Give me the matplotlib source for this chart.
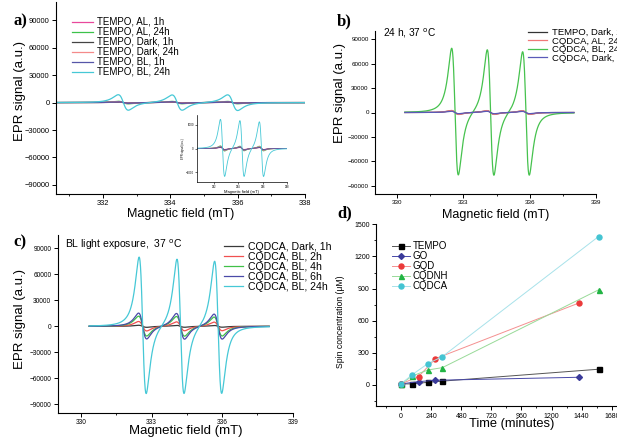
import numpy as np
import matplotlib
matplotlib.use("Agg")
import matplotlib.pyplot as plt
from matplotlib.ticker import MultipleLocator

plt.rcParams['font.family'] = ['Liberation Sans', 'DejaVu Sans']

W, H = 617, 441

# ---- panel a: TEMPO spectra (line centres in mT, peak heights in a.u.)
a_labels = ["TEMPO, AL, 1h", "TEMPO, AL, 24h", "TEMPO, Dark, 1h",
            "TEMPO, Dark, 24h", "TEMPO, BL, 1h", "TEMPO, BL, 24h"]
a_colors = ["#e8489c", "#3cc24a", "#444444", "#f48a8a", "#5656a8", "#46c8d6"]
a_centers = [332.6, 334.2, 335.85]
a_amps = [[500, 500, 450], [1400, 1300, 1300], [700, 700, 600],
          [1100, 1000, 1000], [900, 900, 800], [8500, 8400, 8600]]
a_width = 0.26
# inset of panel a
ins_centers = [332.7, 334.3, 335.9]
ins_amps = [[40, 40, 40], [110, 100, 100], [60, 60, 50],
            [90, 80, 80], [70, 70, 60], [1200, 1180, 1150]]
ins_width = 0.3

# ---- panel b: 24 h, 37 C
b_labels = ["TEMPO, Dark, 24h", "CQDCA, AL, 24h", "CQDCA, BL, 24h", "CQDCA, Dark, 24h"]
b_colors = ["#333333", "#f07878", "#46c24e", "#5a5ab8"]
b_centers = [332.62, 334.23, 335.83]
b_amps = [[2200, 2200, 2000], [2500, 2400, 2300], [78000, 77500, 76000], [1500, 1500, 1400]]
b_widths = [0.3, 0.3, 0.26, 0.3]

# ---- panel c: BL light exposure, 37 C
c_labels = ["CQDCA, Dark, 1h", "CQDCA, BL, 2h", "CQDCA, BL, 4h",
            "CQDCA, BL, 6h", "CQDCA, BL, 24h"]
c_colors = ["#3a3a3a", "#f05050", "#40c048", "#4a4aa8", "#46c8d6"]
c_centers = [332.62, 334.23, 335.83]
c_amps = [[1200, 1100, 1000], [5500, 5200, 5000], [11500, 11500, 11000],
          [15000, 15000, 14500], [79000, 78000, 76500]]
c_widths = [0.3, 0.3, 0.3, 0.3, 0.26]

# ---- panel d: spin concentration vs time
d_names = ["TEMPO", "GO", "GQD", "CQDNH", "CQDCA"]
t_tempo = [0, 90, 215, 330, 1575]
s_tempo = [10, 10, 25, 36, 147]
t_go = [0, 140, 275, 1420]
s_go = [10, 31, 44, 72]
t_gqd = [0, 140, 275, 1420]
s_gqd = [10, 78, 246, 766]
t_cqdnh = [0, 90, 215, 330, 1575]
s_cqdnh = [10, 84, 140, 162, 888]
t_cqdca = [0, 90, 215, 330, 1575]
s_cqdca = [10, 97, 200, 265, 1386]
d_times = [t_tempo, t_go, t_gqd, t_cqdnh, t_cqdca]
d_spins = [s_tempo, s_go, s_gqd, s_cqdnh, s_cqdca]
d_line = ["#555555", "#4848a8", "#f49090", "#98da98", "#a8e2ea"]
d_face = ["#000000", "#3a3a9a", "#ea3a3a", "#22b444", "#44c4d2"]
d_marker = ["s", "D", "o", "^", "o"]


def box(left, top, right, bottom):
    return [left / W, 1 - bottom / H, (right - left) / W, (bottom - top) / H]


def fpx(x, y):
    return (x / W, 1 - y / H)


def epr(field, centers, amps, width):
    # first-derivative Lorentzian lines, scaled to the read peak height
    y = np.zeros_like(field)
    for c, a in zip(centers, amps):
        u = (field - c) / width
        y += -a * u / (1 + u ** 2) ** 2 / 0.3248
    return y


def style(ax, size):
    for s in ("top", "right"):
        ax.spines[s].set_visible(False)
    for s in ("left", "bottom"):
        ax.spines[s].set_linewidth(0.8)
    ax.tick_params(which="major", direction="out", length=3, width=0.7,
                   labelsize=size, pad=1.5)
    ax.tick_params(which="minor", direction="out", length=1.6, width=0.6)


fig = plt.figure(figsize=(W / 100, H / 100), dpi=100)
fig.patch.set_facecolor("white")

field = np.linspace(330.35, 338.0, 1500)

# panel a
ax = fig.add_axes(box(56, 2, 305, 194))
for lab, col, amp in zip(a_labels, a_colors, a_amps):
    ax.plot(field, epr(field, a_centers, amp, a_width), color=col, lw=0.9, label=lab)
ax.set_xlim(330.6, 338)
ax.set_ylim(-100000, 110000)
ax.set_yticks([-90000, -60000, -30000, 0, 30000, 60000, 90000])
ax.xaxis.set_major_locator(MultipleLocator(2))
ax.xaxis.set_minor_locator(MultipleLocator(1))
style(ax, 5.4)
ax.set_xlabel("Magnetic field (mT)", fontsize=9)
ax.set_ylabel("EPR signal (a.u.)", fontsize=9.5)
ax.xaxis.set_label_coords(0.502, -0.075)
ax.yaxis.set_label_coords(-0.12, 0.534)
ax.legend(loc="upper left", bbox_to_anchor=fpx(72, 17), bbox_transform=fig.transFigure,
          frameon=False, fontsize=7, handlelength=2.2, handletextpad=0.4,
          labelspacing=0.0, borderpad=0, borderaxespad=0)

ins = fig.add_axes(box(197, 115, 287, 182))
for col, amp in zip(a_colors, ins_amps):
    ins.plot(field, epr(field, ins_centers, amp, ins_width), color=col, lw=0.6)
ins.set_xlim(330.6, 338)
ins.set_ylim(-1400, 1400)
ins.set_yticks([-1000, 0, 1000])
ins.set_xticks([332, 334, 336, 338])
for s in ("top", "right"):
    ins.spines[s].set_visible(False)
for s in ("left", "bottom"):
    ins.spines[s].set_linewidth(0.5)
ins.tick_params(length=1.5, width=0.4, labelsize=2, pad=0.8)
ins.set_xlabel("Magnetic field (mT)", fontsize=3, labelpad=0.5)
ins.set_ylabel("EPR signal (a.u.)", fontsize=2, labelpad=0.5)

# panel b
ax = fig.add_axes(box(375, 31, 596, 194))
for lab, col, amp, w in zip(b_labels, b_colors, b_amps, b_widths):
    ax.plot(field, epr(field, b_centers, amp, w), color=col, lw=0.9, label=lab)
ax.set_xlim(329, 339)
ax.set_ylim(-100000, 100000)
ax.set_yticks([-90000, -60000, -30000, 0, 30000, 60000, 90000])
ax.xaxis.set_major_locator(MultipleLocator(3))
ax.xaxis.set_minor_locator(MultipleLocator(1.5))
style(ax, 4.5)
ax.set_xlabel("Magnetic field (mT)", fontsize=9)
ax.set_ylabel("EPR signal (a.u.)", fontsize=9.5)
ax.xaxis.set_label_coords(0.548, -0.09)
ax.yaxis.set_label_coords(-0.131, 0.62)
ax.text(383 / W, 1 - 33 / H, r"24 h, 37 $^\mathrm{o}$C", transform=fig.transFigure,
        fontsize=7.3, va="center", ha="left")
# legend runs past the right edge of the figure, as in the source
ax.legend(loc="upper left", bbox_to_anchor=fpx(528, 28), bbox_transform=fig.transFigure,
          frameon=False, fontsize=6.8, handlelength=2.0, handletextpad=0.5,
          labelspacing=-0.05, borderpad=0, borderaxespad=0)

# panel c
axc = fig.add_axes(box(57.5, 235.3, 292.7, 413))
for lab, col, amp, w in zip(c_labels, c_colors, c_amps, c_widths):
    axc.plot(field, epr(field, c_centers, amp, w), color=col, lw=0.9, label=lab)
axc.set_xlim(329, 339)
axc.set_ylim(-100000, 105000)
axc.set_yticks([-90000, -60000, -30000, 0, 30000, 60000, 90000])
axc.xaxis.set_major_locator(MultipleLocator(3))
axc.xaxis.set_minor_locator(MultipleLocator(1.5))
style(axc, 4.7)
axc.set_xlabel("Magnetic field (mT)", fontsize=9.5)
axc.set_ylabel("EPR signal (a.u.)", fontsize=9.5)
axc.xaxis.set_label_coords(0.545, -0.07)
axc.yaxis.set_label_coords(-0.134, 0.529)
axc.text(65 / W, 1 - 245 / H, r"BL light exposure,  37 $^\mathrm{o}$C",
         transform=fig.transFigure, fontsize=7.5, va="center", ha="left")
axc.legend(loc="upper left", bbox_to_anchor=fpx(224, 242), bbox_transform=fig.transFigure,
           frameon=False, fontsize=7.6, handlelength=1.8, handletextpad=0.5,
           labelspacing=0.0, borderpad=0, borderaxespad=0)

# panel d
axd = fig.add_axes(box(375.9, 224.3, 617, 406.4))
for name, t, s, lc, fc, mk in zip(d_names, d_times, d_spins, d_line, d_face, d_marker):
    ms = 3.0 if mk == "D" else 3.6
    axd.plot(t, s, color=lc, lw=0.7, marker=mk, ms=ms, mfc=fc, mec=fc, label=name)
axd.set_xlim(-200, 1722)
axd.set_ylim(-200, 1500)
axd.xaxis.set_major_locator(MultipleLocator(240))
axd.xaxis.set_minor_locator(MultipleLocator(120))
axd.yaxis.set_major_locator(MultipleLocator(300))
axd.yaxis.set_minor_locator(MultipleLocator(150))
axd.set_yticks([0, 300, 600, 900, 1200, 1500])
style(axd, 5)
axd.set_xlabel("Time (minutes)", fontsize=9.3)
axd.set_ylabel("Spin concentration (\u03bcM)", fontsize=6.2)
axd.xaxis.set_label_coords(0.565, -0.065)
axd.yaxis.set_label_coords(-0.128, 0.466)
axd.legend(loc="upper left", bbox_to_anchor=fpx(392, 241), bbox_transform=fig.transFigure,
           frameon=False, fontsize=7, handlelength=1.85, handletextpad=0.3,
           labelspacing=0.0, borderpad=0, borderaxespad=0)

for txt, x, y in [("a)", 20, 21), ("b)", 344, 21), ("c)", 20, 242), ("d)", 345, 213)]:
    fig.text(x / W, 1 - y / H, txt, fontsize=12, fontweight="bold",
             family="Liberation Serif", ha="center", va="center", zorder=5)

fig.savefig("out.png", dpi=100)
